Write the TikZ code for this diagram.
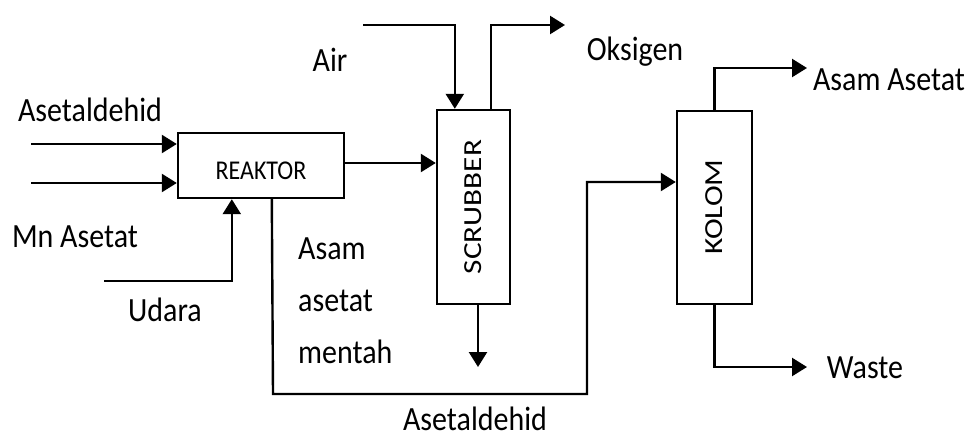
\documentclass[tikz,border=0pt]{standalone}
\usepackage{fontspec}
\setmainfont{Carlito}
\usetikzlibrary{arrows.meta}
\newcommand\vstr[1]{\scalebox{1}[1.13]{#1}}
\newcommand\hstr[1]{\scalebox{1.2}[1]{#1}}
\begin{document}
\begin{tikzpicture}[x=1pt,y=-1pt, line width=2.4pt,
  arr/.style={-{Triangle[length=15pt,width=18pt]}},
  lbl/.style={font=\fontsize{30}{46}\selectfont, inner sep=0pt},
  unit/.style={draw, rectangle, inner sep=0pt},
  unittext/.style={font=\fontsize{24}{28}\selectfont, inner sep=0pt},
  vtext/.style={font=\fontsize{26}{30}\selectfont, inner sep=0pt, rotate=90}]
\useasboundingbox (0,0) rectangle (971,439);

% units
\node[unit, minimum width=166pt, minimum height=65pt] (reak) at (261,165.5) {};
\node[unittext] (reaklbl) at (261,171) {\vstr{REAKTOR}};
\node[unit, minimum width=73pt, minimum height=194pt] (scrub) at (473.5,207) {};
\node[vtext] (scrublbl) at (473.5,207) {\hstr{SCRUBBER}};
\node[unit, minimum width=75pt, minimum height=193pt] (kolom) at (714.5,207.5) {};
\node[vtext] (kolomlbl) at (714.5,207) {\hstr{KOLOM}};

% free ends
\coordinate (a1) at (31,144);
\coordinate (a2) at (31,183);
\coordinate (ud) at (104,281);
\coordinate (airs) at (363,25);
\coordinate (oks) at (565,25);
\coordinate (sb) at (478,367);
\coordinate (rb) at (273,394);
\coordinate (kb) at (587,394);
\coordinate (aa) at (807,68);
\coordinate (ww) at (807,367);

% connectors
\draw[arr] (a1) -- (a1 -| reak.west);
\draw[arr] (a2) -- (a2 -| reak.west);
\draw[arr] (ud) -| ([xshift=55pt]reak.south west);
\draw[arr] ([yshift=2.5pt]reak.east) -- ([yshift=2.5pt]reak.east -| scrub.west);
\draw[arr] (airs) -| ([xshift=19pt]scrub.north west);
\draw[arr] ([xshift=55pt]scrub.north west) |- (oks);
\draw[arr] (sb |- scrub.south) -- (sb);
\draw[arr] ([xshift=95pt]reak.south west) -- (rb) -- (kb) |- ([yshift=25.5pt]kolom.west);
\draw[arr] (kolom.north) |- (aa);
\draw[arr] (kolom.south) |- (ww);

% labels
\node[lbl] (l1) at (90,110) {\vstr{Asetaldehid}};
\node[lbl] (l2) at (75,237) {\vstr{Mn Asetat}};
\node[lbl] (l3) at (165,310) {\vstr{Udara}};
\node[lbl] (l4) at (330,60) {\vstr{Air}};
\node[lbl, anchor=north west] (l5) at (297,222) {\vstr{\begin{tabular}{@{}l@{}}Asam\\asetat\\mentah\end{tabular}}};
\node[lbl] (l6) at (635,52) {\vstr{Oksigen}};
\node[lbl] (l7) at (889,80) {\vstr{Asam Asetat}};
\node[lbl] (l8) at (865,368) {\vstr{Waste}};
\node[lbl] (l9) at (475,419) {\vstr{Asetaldehid}};
\end{tikzpicture}
\end{document}
